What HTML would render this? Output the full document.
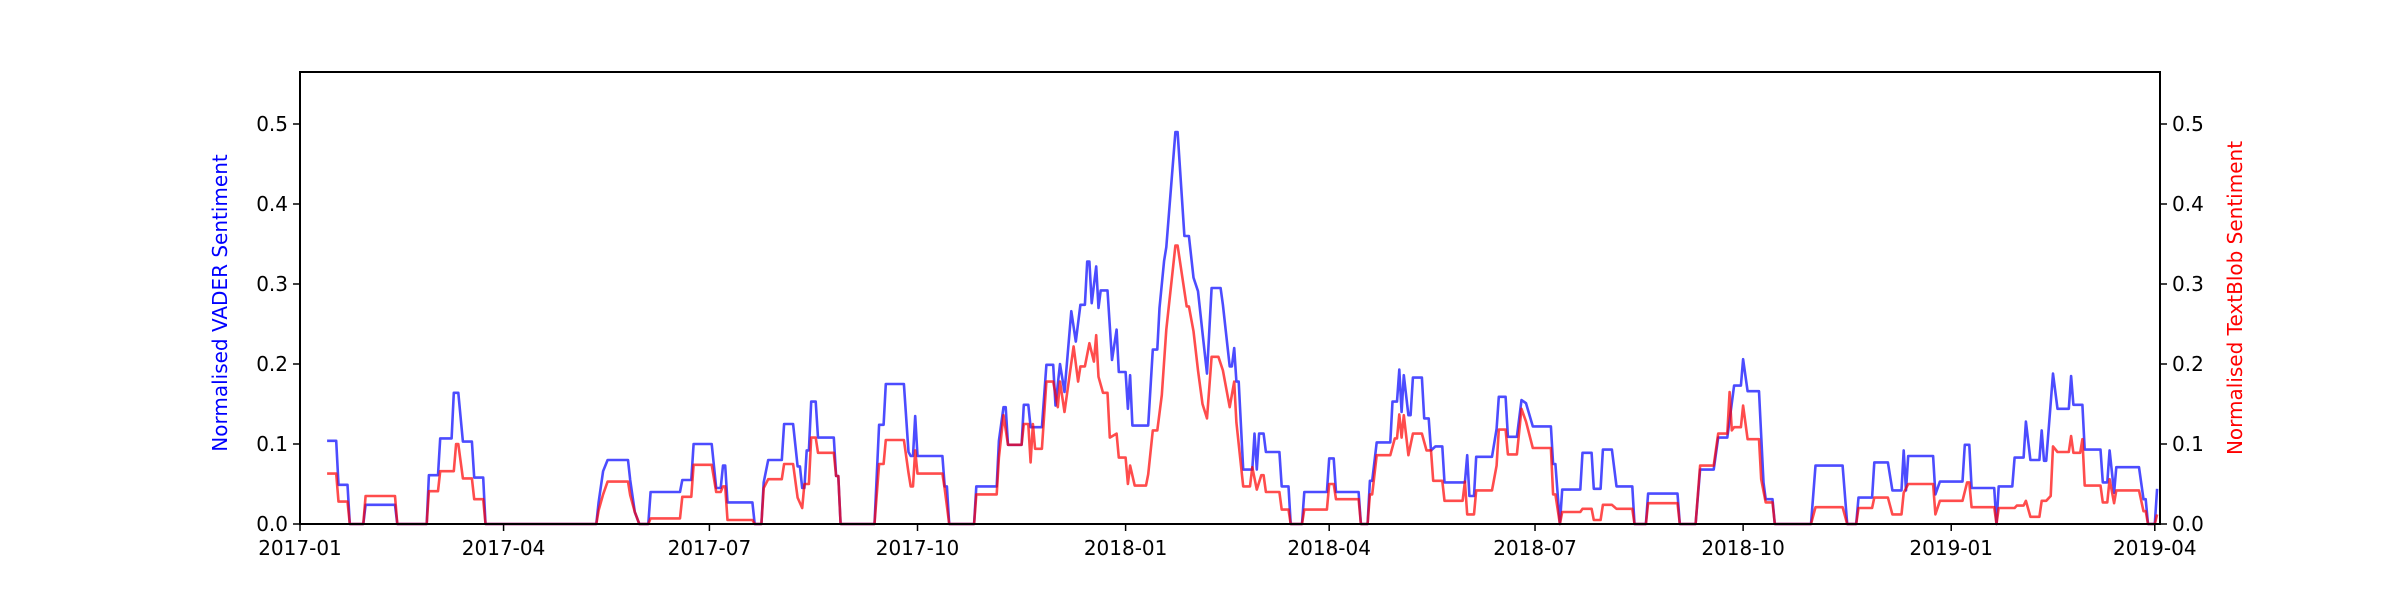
<!DOCTYPE html>
<html><head><meta charset="utf-8"><style>
body{margin:0;background:#fff}
svg{display:block}
text{font-family:"DejaVu Sans","Liberation Sans",sans-serif;font-size:20px}
</style></head><body>
<svg id="chart" width="2400" height="600" xmlns="http://www.w3.org/2000/svg">
<rect width="2400" height="600" fill="#fff"/>
<g id="series"></g>
<g id="axes"></g>
<text x="0" y="0" fill="#0000ff" text-anchor="middle" transform="translate(227,303) rotate(-90)">Normalised VADER Sentiment</text>
<text x="0" y="0" fill="#ff0000" text-anchor="middle" transform="translate(2242,298) rotate(-90)">Normalised TextBlob Sentiment</text>
</svg>
<script>
// day offsets from 2017-01-01
const xTickLabels = ["2017-01","2017-04","2017-07","2017-10","2018-01","2018-04","2018-07","2018-10","2019-01","2019-04"];
const xTickDays = [0,90,181,273,365,455,546,638,730,820];
const yTickValues = [0.0,0.1,0.2,0.3,0.4,0.5];
const yTickLabels = ["0.0","0.1","0.2","0.3","0.4","0.5"];
const vaderDays = [12,16,17,21,22,28,29,42,43,56,57,61,62,67,68,70,72,76,77,81,82,131,132,134,136,145,146,148,150,154,155,168,169,173,174,182,184,186,187,188,189,200,201,204,205,207,213,214,218,220,221,222,223,224,225,226,228,229,236,237,238,239,254,256,258,259,267,269,270,271,272,273,274,284,285,286,287,298,299,308,309,311,312,313,319,320,322,323,328,330,333,334,336,338,341,343,345,347,348,349,350,352,353,354,357,359,361,362,365,366,367,368,375,377,379,380,382,383,387,388,391,393,395,397,399,401,403,407,408,411,412,413,414,415,417,421,422,423,424,426,427,433,434,437,438,443,444,454,455,457,458,468,469,472,473,474,476,482,483,485,486,487,488,490,491,492,496,497,499,500,502,505,506,515,516,517,519,520,527,529,530,533,534,538,540,542,545,553,554,555,557,558,566,567,571,572,575,576,580,582,589,590,595,596,609,610,617,619,625,627,631,634,637,638,640,645,647,648,651,652,668,670,682,684,688,689,695,696,702,704,708,709,710,711,722,723,725,735,736,738,739,749,750,751,757,758,762,763,765,769,770,771,772,775,777,782,783,784,788,789,796,797,799,800,802,803,813,815,816,817,820,821];
const vaderVals = [0.104,0.104,0.049,0.049,0,0,0.024,0.024,0,0,0.061,0.061,0.107,0.107,0.164,0.164,0.103,0.103,0.058,0.058,0,0,0.027,0.066,0.08,0.08,0.055,0.015,0,0,0.04,0.04,0.055,0.055,0.1,0.1,0.045,0.045,0.073,0.073,0.027,0.027,0,0,0.052,0.08,0.08,0.125,0.125,0.072,0.072,0.045,0.045,0.092,0.092,0.153,0.153,0.108,0.108,0.06,0.06,0,0,0.124,0.124,0.175,0.175,0.09,0.085,0.085,0.135,0.085,0.085,0.085,0.047,0.047,0,0,0.047,0.047,0.104,0.146,0.146,0.099,0.099,0.149,0.149,0.121,0.121,0.199,0.199,0.148,0.2,0.165,0.266,0.228,0.274,0.274,0.328,0.328,0.276,0.322,0.27,0.292,0.292,0.205,0.243,0.19,0.19,0.144,0.186,0.123,0.123,0.218,0.218,0.27,0.329,0.346,0.49,0.49,0.36,0.36,0.308,0.291,0.239,0.188,0.295,0.295,0.274,0.197,0.197,0.22,0.178,0.178,0.068,0.068,0.113,0.068,0.113,0.113,0.09,0.09,0.047,0.047,0,0,0.04,0.04,0.082,0.082,0.04,0.04,0,0,0.054,0.054,0.102,0.102,0.153,0.153,0.193,0.14,0.186,0.136,0.136,0.183,0.183,0.132,0.132,0.092,0.097,0.097,0.052,0.052,0.086,0.035,0.035,0.084,0.084,0.119,0.159,0.159,0.109,0.109,0.155,0.151,0.122,0.122,0.075,0.075,0,0.043,0.043,0.089,0.089,0.044,0.044,0.093,0.093,0.047,0.047,0,0,0.038,0.038,0,0,0.068,0.068,0.108,0.108,0.173,0.173,0.206,0.166,0.166,0.052,0.031,0.031,0,0,0.073,0.073,0,0,0.033,0.033,0.077,0.077,0.042,0.042,0.092,0.042,0.085,0.085,0.037,0.053,0.053,0.099,0.099,0.045,0.045,0,0.047,0.047,0.083,0.083,0.128,0.08,0.08,0.117,0.079,0.079,0.188,0.144,0.144,0.185,0.149,0.149,0.093,0.093,0.052,0.052,0.092,0.039,0.071,0.071,0.031,0.031,0,0,0.044];
const textblobDays = [12,16,17,21,22,28,29,42,43,56,57,61,62,68,69,70,72,76,77,81,82,131,132,134,136,145,146,148,150,154,155,168,169,173,174,182,184,186,187,188,189,200,201,204,205,207,213,214,218,220,222,223,225,226,228,229,236,237,238,239,254,256,258,259,267,269,270,271,272,273,284,285,287,298,299,308,309,311,313,319,320,322,323,324,325,328,330,333,335,336,338,342,344,345,347,349,351,352,353,355,357,358,361,362,365,366,367,369,374,375,377,379,381,383,387,388,392,393,395,397,399,401,403,406,408,411,413,414,417,420,421,423,425,426,427,433,434,437,438,443,444,454,455,457,458,468,469,472,473,474,476,482,484,485,486,487,488,490,492,496,498,500,501,505,506,514,515,516,519,520,527,529,530,533,534,538,540,542,545,553,554,555,557,558,566,567,571,572,575,576,580,582,589,590,595,596,609,610,617,619,625,627,631,632,633,634,637,638,640,645,646,648,651,652,668,670,682,684,688,689,695,696,702,704,708,709,711,722,723,725,735,737,738,739,749,750,751,758,759,762,763,765,769,770,772,774,775,777,782,783,784,787,788,789,796,797,799,800,802,803,813,815,816,817,820,821];
const textblobVals = [0.063,0.063,0.028,0.028,0,0,0.035,0.035,0,0,0.041,0.041,0.066,0.066,0.1,0.1,0.057,0.057,0.031,0.031,0,0,0.017,0.037,0.053,0.053,0.036,0.015,0,0,0.007,0.007,0.034,0.034,0.074,0.074,0.04,0.04,0.047,0.047,0.005,0.005,0,0,0.045,0.056,0.056,0.075,0.075,0.033,0.02,0.05,0.05,0.108,0.108,0.089,0.089,0.06,0.06,0,0,0.075,0.075,0.105,0.105,0.064,0.047,0.047,0.092,0.063,0.063,0.044,0,0,0.037,0.037,0.083,0.136,0.099,0.099,0.125,0.125,0.077,0.125,0.094,0.094,0.178,0.178,0.146,0.178,0.14,0.222,0.178,0.197,0.197,0.226,0.203,0.236,0.184,0.164,0.164,0.108,0.113,0.083,0.083,0.05,0.073,0.048,0.048,0.062,0.117,0.117,0.161,0.243,0.348,0.348,0.272,0.272,0.241,0.192,0.15,0.132,0.209,0.209,0.192,0.146,0.178,0.127,0.047,0.047,0.071,0.043,0.061,0.061,0.04,0.04,0.018,0.018,0,0,0.018,0.018,0.05,0.05,0.031,0.031,0,0,0.037,0.037,0.086,0.086,0.107,0.107,0.137,0.108,0.136,0.086,0.113,0.113,0.092,0.092,0.054,0.054,0.029,0.029,0.053,0.012,0.012,0.042,0.042,0.073,0.118,0.118,0.087,0.087,0.144,0.128,0.095,0.095,0.037,0.037,0,0.015,0.015,0.019,0.019,0.005,0.005,0.024,0.024,0.019,0.019,0,0,0.026,0.026,0,0,0.073,0.073,0.113,0.113,0.165,0.117,0.121,0.121,0.148,0.106,0.106,0.056,0.027,0.027,0,0,0.021,0.021,0,0,0.02,0.02,0.033,0.033,0.012,0.012,0.039,0.05,0.05,0.012,0.029,0.029,0.052,0.052,0.021,0.021,0,0.02,0.02,0.023,0.023,0.029,0.009,0.009,0.029,0.029,0.035,0.097,0.09,0.09,0.11,0.089,0.089,0.106,0.048,0.048,0.027,0.027,0.056,0.026,0.042,0.042,0.016,0.016,0,0,0.012];

const L=300,R=2160,T=72,B=524;
const dayMax=822.3, yMax=(B-T)/800;
function xs(d){return L+d*(R-L)/dayMax;}
function ys(v){return B-v*(B-T)/yMax;}
const NS="http://www.w3.org/2000/svg";
const series=document.getElementById('series');
const axes=document.getElementById('axes');
function path(days,vals,color,name){
  const p=document.createElementNS(NS,'path');
  let d='';
  const n=Math.min(days.length,vals.length);
  for(let i=0;i<n;i++){d+=(i?'L':'M')+xs(days[i]).toFixed(1)+','+ys(vals[i]).toFixed(1);}
  p.setAttribute('d',d);p.setAttribute('fill','none');p.setAttribute('stroke',color);
  p.setAttribute('stroke-width','2.6');p.setAttribute('stroke-opacity','0.7');p.setAttribute('stroke-linejoin','round');
  
  
  series.appendChild(p);
}
path(vaderDays,vaderVals,'#0000ff','vader-line');
path(textblobDays,textblobVals,'#ff0000','textblob-line');
function el(tag,attrs){const e=document.createElementNS(NS,tag);for(const k in attrs)e.setAttribute(k,attrs[k]);return e;}
const frame=el('rect',{x:L,y:T,width:R-L,height:B-T,fill:'none',stroke:'#000','stroke-width':2});


axes.appendChild(frame);
xTickDays.forEach((d,i)=>{
  const x=xs(d);
  const t=el('line',{x1:x,x2:x,y1:B,y2:B+7,stroke:'#000','stroke-width':1.5});
  
  
  axes.appendChild(t);
  const tx=el('text',{x:x,y:B+31,'text-anchor':'middle',fill:'#000'});
  tx.textContent=xTickLabels[i];
  
  
  axes.appendChild(tx);
});
yTickValues.forEach((v,i)=>{
  const y=ys(v);
  const tl=el('line',{x1:L-7,x2:L,y1:y,y2:y,stroke:'#000','stroke-width':1.5});
  
  
  axes.appendChild(tl);
  const tr=el('line',{x1:R,x2:R+7,y1:y,y2:y,stroke:'#000','stroke-width':1.5});
  
  
  axes.appendChild(tr);
  const a=el('text',{x:L-12,y:y+7,'text-anchor':'end',fill:'#000'});
  a.textContent=yTickLabels[i];
  
  
  axes.appendChild(a);
  const b=el('text',{x:R+12,y:y+7,'text-anchor':'start',fill:'#000'});
  b.textContent=yTickLabels[i];
  
  
  axes.appendChild(b);
});
</script>
</body></html>
